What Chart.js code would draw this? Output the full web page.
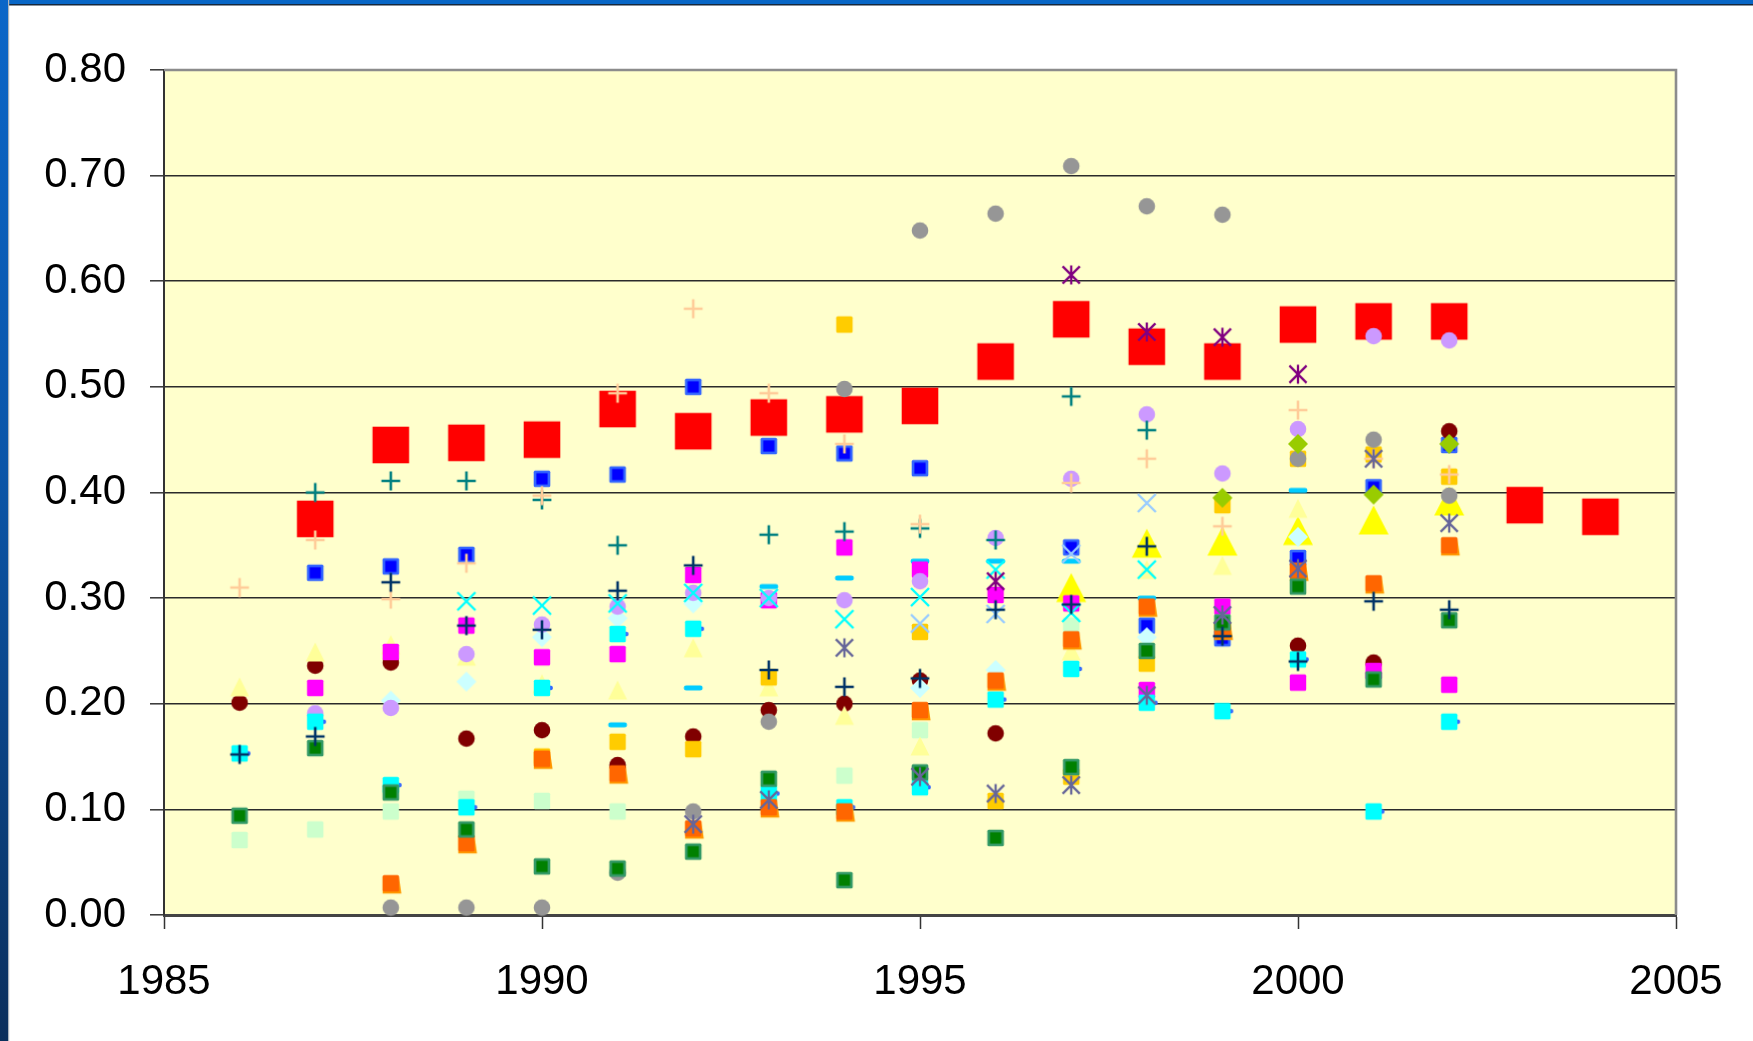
<!DOCTYPE html>
<html>
<head>
<meta charset="utf-8">
<title>Scatter 1986–2004</title>
<script src="https://cdn.jsdelivr.net/npm/chart.js@4/dist/chart.umd.min.js"></script>
<style>
  html, body { margin: 0; padding: 0; background: #fff; }
  #wrap { width: 1753px; height: 1041px; }
</style>
</head>
<body>
<div id="wrap"><canvas id="c" width="1753" height="1041"></canvas></div>
<script>
// Years on the x axis (one value per year in every series below)
const years = [1986, 1987, 1988, 1989, 1990, 1991, 1992, 1993, 1994, 1995, 1996, 1997, 1998, 1999, 2000, 2001, 2002, 2003, 2004];

// Axis ticks
const xTicks = [1985, 1990, 1995, 2000, 2005];
const yTicks = [0, 0.1, 0.2, 0.3, 0.4, 0.5, 0.6, 0.7, 0.8];

// Series values, 1986 … 2004 (null = no value that year)
const redSquare        = [null, 0.375, 0.445, 0.447, 0.450, 0.479, 0.458, 0.471, 0.474, 0.482, 0.524, 0.564, 0.538, 0.524, 0.559, 0.562, 0.562, 0.388, 0.377];
const grayCircle       = [null, null, 0.007, 0.007, 0.007, 0.040, 0.098, 0.183, 0.498, 0.648, 0.664, 0.709, 0.671, 0.663, 0.432, 0.450, 0.397, null, null];
const purpleStar       = [null, null, null, null, null, null, null, null, null, null, 0.316, 0.606, 0.552, 0.547, 0.512, null, null, null, null];
const tealPlus         = [null, 0.400, 0.411, 0.411, 0.393, 0.350, null, 0.360, 0.363, 0.366, 0.355, 0.491, 0.459, null, null, null, null, null, null];
const peachPlus        = [0.310, 0.355, 0.299, 0.333, 0.397, 0.494, 0.574, 0.494, 0.446, 0.370, null, 0.409, 0.432, 0.368, 0.478, 0.432, 0.417, null, null];
const blueSquare       = [null, 0.324, 0.330, 0.341, 0.413, 0.417, 0.500, 0.444, 0.437, 0.423, null, 0.348, 0.274, 0.262, 0.338, 0.405, 0.445, null, null];
const navyPlus         = [0.152, 0.169, 0.315, 0.274, 0.270, 0.307, 0.331, 0.232, 0.216, 0.224, 0.289, 0.294, 0.349, 0.264, 0.240, 0.297, 0.289, null, null];
const cyanCross        = [null, null, null, 0.297, 0.293, 0.295, 0.305, 0.300, 0.280, 0.301, 0.327, 0.286, 0.327, null, null, null, null, null, null];
const lightBlueCross   = [null, null, null, null, null, null, null, null, null, 0.276, 0.285, 0.342, 0.390, null, null, null, null, null, null];
const magentaSquare    = [null, 0.215, 0.249, 0.274, 0.244, 0.247, 0.322, 0.298, 0.348, 0.327, 0.303, 0.295, 0.213, 0.292, 0.220, 0.231, 0.218, null, null];
const lavenderCircle   = [null, 0.191, 0.196, 0.247, 0.275, 0.292, 0.305, 0.300, 0.298, 0.316, 0.357, 0.413, 0.474, 0.418, 0.460, 0.548, 0.544, null, null];
const lightCyanDiamond = [null, null, 0.203, 0.221, 0.263, 0.281, 0.295, null, null, 0.215, 0.232, null, 0.263, null, 0.358, null, null, null, null];
const cyanSquare       = [0.153, 0.183, 0.123, 0.102, 0.215, 0.266, 0.271, 0.115, 0.102, 0.121, 0.204, 0.233, 0.201, 0.193, 0.242, 0.098, 0.183, null, null];
const paleYellowTri    = [0.216, 0.249, 0.256, 0.245, 0.219, 0.213, 0.253, 0.216, 0.189, 0.160, null, 0.250, 0.327, 0.331, 0.385, null, null, null, null];
const yellowTri        = [null, null, null, null, null, null, null, null, null, null, null, 0.310, 0.352, 0.354, 0.364, 0.374, 0.392, null, null];
const darkRedCircle    = [0.201, 0.236, 0.239, 0.167, 0.175, 0.142, 0.169, 0.194, 0.200, 0.222, 0.172, null, null, null, 0.255, 0.239, 0.458, null, null];
const goldSquare       = [null, null, null, null, 0.150, 0.164, 0.157, 0.225, 0.559, 0.268, 0.108, 0.131, 0.238, 0.388, 0.432, 0.436, 0.415, null, null];
const orangeSquare     = [null, null, 0.030, 0.068, 0.148, 0.134, 0.082, 0.102, 0.098, 0.194, 0.222, 0.261, 0.292, 0.270, 0.326, 0.314, 0.350, null, null];
const greenSquare      = [0.094, 0.158, 0.116, 0.081, 0.046, 0.044, 0.060, 0.129, 0.033, 0.135, 0.073, 0.140, 0.250, 0.277, 0.311, 0.223, 0.279, null, null];
const paleGreenSquare  = [0.071, 0.081, 0.098, 0.110, 0.108, 0.098, null, null, 0.132, 0.175, null, 0.274, null, null, null, null, null, null, null];
const skyBlueDash      = [null, null, null, null, null, 0.180, 0.215, 0.311, 0.319, 0.335, 0.335, 0.335, 0.300, null, 0.402, null, null, null, null];
const slateStar        = [null, null, null, null, null, null, 0.086, 0.109, 0.253, 0.131, 0.115, 0.123, 0.208, 0.284, 0.328, 0.432, 0.371, null, null];
const limeDiamond      = [null, null, null, null, null, null, null, null, null, null, null, null, null, 0.395, 0.446, 0.398, 0.446, null, null];

// ---- marker images -------------------------------------------------------
function marker(size, paint) {
  const c = document.createElement('canvas');
  c.width = size; c.height = size;
  const g = c.getContext('2d');
  g.translate(size / 2, size / 2);
  paint(g);
  return c;
}
function roundRect(g, x, y, w, h, r) {
  g.beginPath();
  g.moveTo(x + r, y);
  g.arcTo(x + w, y, x + w, y + h, r);
  g.arcTo(x + w, y + h, x, y + h, r);
  g.arcTo(x, y + h, x, y, r);
  g.arcTo(x, y, x + w, y, r);
  g.closePath();
}
const mk = {
  bigSquare: (col) => marker(40, g => { g.fillStyle = col; g.fillRect(-18.3, -18.3, 36.6, 36.6); }),
  square: (col) => marker(24, g => { g.fillStyle = col; roundRect(g, -8.2, -8.2, 16.4, 16.4, 1.5); g.fill(); }),
  framedSquare: (edge, fill) => marker(24, g => {
    g.fillStyle = edge; roundRect(g, -8.3, -8.3, 16.6, 16.6, 1.5); g.fill();
    g.fillStyle = fill; g.fillRect(-5.6, -5.6, 11.2, 11.2);
  }),
  nubSquare: (col, nub) => marker(26, g => {
    g.fillStyle = nub; roundRect(g, 5, -2.2, 5.8, 4.4, 1.8); g.fill();
    g.fillStyle = col; roundRect(g, -8.2, -8.2, 16.4, 16.4, 1.5); g.fill();
  }),
  footSquare: (col, foot) => marker(26, g => {
    g.fillStyle = foot;
    g.beginPath(); g.moveTo(-8.2, -6); g.lineTo(8.2, -6); g.lineTo(10.6, 10.2); g.lineTo(-8.2, 10.2); g.closePath(); g.fill();
    g.fillStyle = col; roundRect(g, -8.2, -8.2, 16.4, 16.4, 1.5); g.fill();
  }),
  circle: (col) => marker(24, g => { g.fillStyle = col; g.beginPath(); g.arc(0, 0, 8.3, 0, Math.PI * 2); g.fill(); }),
  diamond: (col) => marker(24, g => {
    g.fillStyle = col; g.beginPath();
    g.moveTo(0, -10); g.lineTo(10, 0); g.lineTo(0, 10); g.lineTo(-10, 0); g.closePath(); g.fill();
  }),
  triangle: (col, w, h) => marker(Math.ceil(Math.max(w, h) / 2) * 2 + 4, g => {
    g.fillStyle = col; g.beginPath();
    g.moveTo(0, -h / 2); g.lineTo(w / 2, h / 2); g.lineTo(-w / 2, h / 2); g.closePath(); g.fill();
  }),
  plus: (col) => marker(24, g => {
    g.strokeStyle = col; g.lineWidth = 2.6; g.lineCap = 'butt'; g.beginPath();
    g.moveTo(-9.4, 0); g.lineTo(9.4, 0); g.moveTo(0, -9.4); g.lineTo(0, 9.4); g.stroke();
  }),
  cross: (col) => marker(24, g => {
    g.strokeStyle = col; g.lineWidth = 2.4; g.beginPath();
    g.moveTo(-9, -9); g.lineTo(9, 9); g.moveTo(9, -9); g.lineTo(-9, 9); g.stroke();
  }),
  star: (col) => marker(24, g => {
    g.strokeStyle = col; g.lineWidth = 2.3; g.beginPath();
    g.moveTo(-8.6, -8.6); g.lineTo(8.6, 8.6); g.moveTo(8.6, -8.6); g.lineTo(-8.6, 8.6);
    g.moveTo(0, -9.6); g.lineTo(0, 9.6); g.stroke();
  }),
  dash: (col) => marker(24, g => { g.fillStyle = col; roundRect(g, -9.4, -2.6, 18.8, 5.2, 2.4); g.fill(); })
};

// Drawing order: first entry ends up on top
const series = [
  { values: slateStar,        img: mk.star('#666699') },
  { values: navyPlus,         img: mk.plus('#003366') },
  { values: purpleStar,       img: mk.star('#800080') },
  { values: peachPlus,        img: mk.plus('#FFCC99') },
  { values: tealPlus,         img: mk.plus('#008080') },
  { values: cyanCross,        img: mk.cross('#00FFFF') },
  { values: lightBlueCross,   img: mk.cross('#99CCFF') },
  { values: limeDiamond,      img: mk.diamond('#99CC00') },
  { values: greenSquare,      img: mk.framedSquare('#339966', '#008000') },
  { values: orangeSquare,     img: mk.footSquare('#FF6600', '#FF9900') },
  { values: cyanSquare,       img: mk.nubSquare('#00FFFF', '#3366FF') },
  { values: lavenderCircle,   img: mk.circle('#CC99FF') },
  { values: lightCyanDiamond, img: mk.diamond('#CCFFFF') },
  { values: magentaSquare,    img: mk.square('#FF00FF') },
  { values: grayCircle,       img: mk.circle('#969696') },
  { values: goldSquare,       img: mk.square('#FFCC00') },
  { values: paleYellowTri,    img: mk.triangle('#FFFF99', 19, 19) },
  { values: darkRedCircle,    img: mk.circle('#800000') },
  { values: skyBlueDash,      img: mk.dash('#00CCFF') },
  { values: blueSquare,       img: mk.framedSquare('#3366FF', '#0000FF') },
  { values: paleGreenSquare,  img: mk.square('#CCFFCC') },
  { values: yellowTri,        img: mk.triangle('#FFFF00', 30, 29) },
  { values: redSquare,        img: mk.bigSquare('#FF0000') }
];

const datasets = series.map(s => ({
  data: years.map((yr, i) => s.values[i] == null ? null : { x: yr, y: s.values[i] }).filter(p => p),
  pointStyle: s.img,
  pointRadius: 6,
  pointHoverRadius: 6,
  showLine: false,
  clip: false
}));

// ---- page frame, plot fill and plot border ---------------------------------
const framePlugin = {
  id: 'frame',
  beforeDraw(chart) {
    const { ctx, width, height, chartArea: a } = chart;
    ctx.save();
    ctx.fillStyle = '#ffffff';
    ctx.fillRect(0, 0, width, height);
    ctx.fillStyle = '#0766c6';
    ctx.fillRect(0, 0, width, 4);
    ctx.fillStyle = '#16283c';
    ctx.fillRect(0, 4, width, 1.5);
    const g = ctx.createLinearGradient(0, 0, 0, height);
    g.addColorStop(0, '#0a66c8');
    g.addColorStop(0.45, '#0a55a8');
    g.addColorStop(1, '#0a2f5c');
    ctx.fillStyle = g;
    ctx.fillRect(0, 0, 8, height);
    ctx.fillStyle = '#aab4bd';
    ctx.fillRect(8, 0, 1.2, height);
    ctx.fillStyle = '#FFFFCC';
    ctx.fillRect(a.left, a.top, a.right - a.left, a.bottom - a.top);
    ctx.restore();
  },
  beforeDatasetsDraw(chart) {
    const { ctx, chartArea: a } = chart;
    ctx.save();
    ctx.strokeStyle = '#8c8c8c';
    ctx.lineWidth = 2.6;
    ctx.beginPath();
    ctx.moveTo(a.left, a.top);
    ctx.lineTo(a.right, a.top);
    ctx.lineTo(a.right, a.bottom);
    ctx.stroke();
    ctx.restore();
  }
};

const tickFont = { family: "'Liberation Sans', Arial, sans-serif", size: 42 };

new Chart(document.getElementById('c'), {
  type: 'scatter',
  data: { datasets },
  plugins: [framePlugin],
  options: {
    responsive: false,
    animation: false,
    devicePixelRatio: 1,
    layout: { padding: { top: 70, right: 77, left: 0, bottom: 0 } },
    plugins: { legend: { display: false }, tooltip: { enabled: false } },
    events: [],
    scales: {
      x: {
        type: 'linear',
        min: xTicks[0],
        max: xTicks[xTicks.length - 1],
        afterBuildTicks: s => { s.ticks = xTicks.map(v => ({ value: v })); },
        afterFit: s => { s.height = 126; },
        grid: { drawOnChartArea: false, drawTicks: true, tickLength: 14, tickColor: '#333', tickWidth: 1.5 },
        border: { display: true, color: '#444', width: 3 },
        ticks: { font: tickFont, color: '#000', padding: 28, maxRotation: 0, callback: v => String(v) }
      },
      y: {
        type: 'linear',
        min: yTicks[0],
        max: yTicks[yTicks.length - 1],
        afterBuildTicks: s => { s.ticks = yTicks.map(v => ({ value: v })); },
        afterFit: s => { s.width = 164; },
        grid: { color: '#2b2b2b', lineWidth: 1.6, tickLength: 14, tickColor: '#333', tickWidth: 1.5 },
        border: { display: true, color: '#333', width: 2 },
        ticks: { font: tickFont, color: '#000', padding: 24, callback: v => Number(v).toFixed(2) }
      }
    }
  }
});
</script>
</body>
</html>
